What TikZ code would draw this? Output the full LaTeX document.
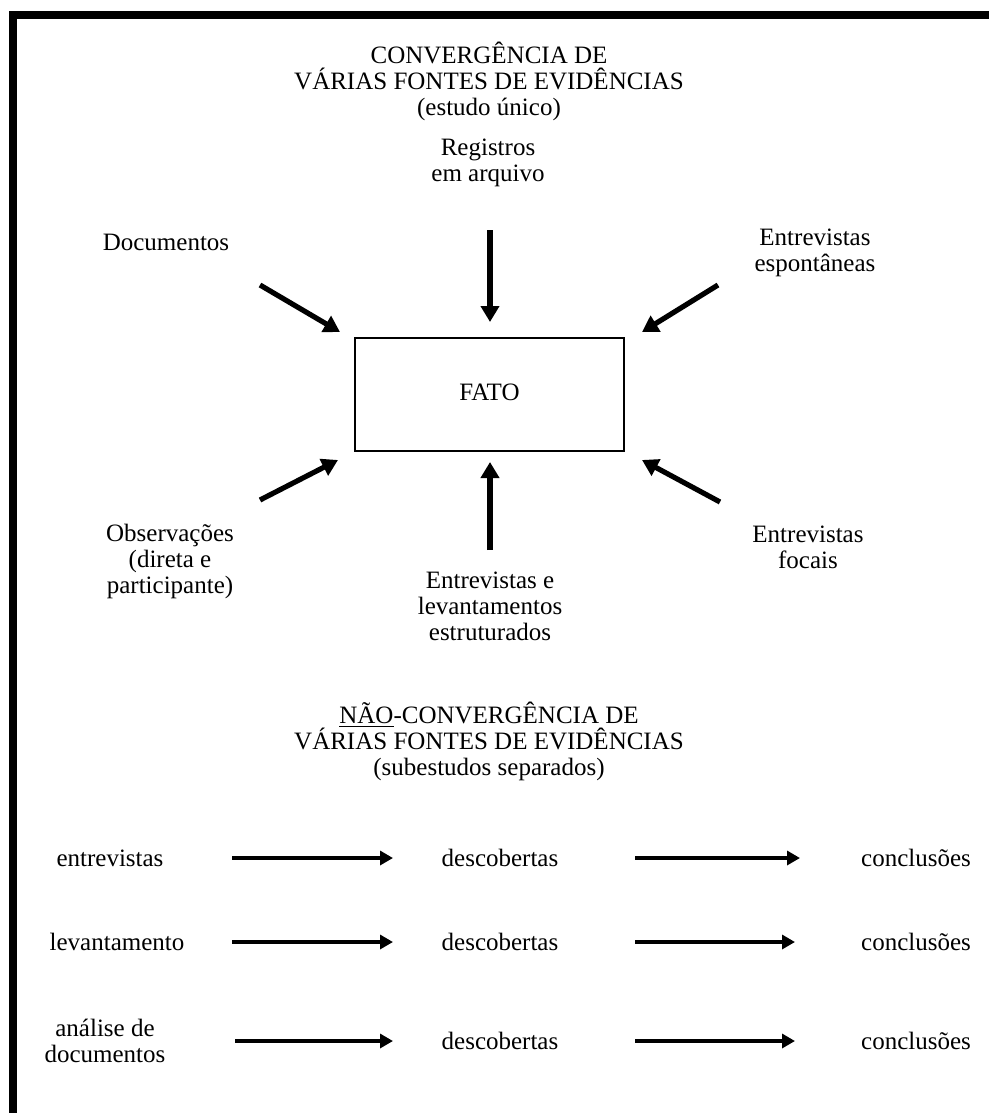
\documentclass[tikz,border=0pt]{standalone}
\usepackage{fontspec}
\setmainfont{Liberation Serif}
\usetikzlibrary{arrows.meta}
\begin{document}
\begin{tikzpicture}[x=0.5pt,y=-0.5pt,
  lbl/.style={font=\fontsize{12.5}{13}\selectfont, align=center, inner sep=0pt},
  bigarrow/.style={line width=2.6pt, -{Triangle[length=8pt,width=9pt]}},
  rowarrow/.style={line width=2.4pt, -{Triangle[length=6.5pt,width=7pt]}},
  factbox/.style={draw, line width=1pt, minimum width=134.5pt, minimum height=56.5pt, inner sep=0pt}]
\useasboundingbox (0,0) rectangle (989,1113);
% frame
\fill (9,11) rectangle (989,19);
\fill (9,11) rectangle (17,1113);
% titles
\node[lbl] (title1) at (489,81) {CONVERGÊNCIA DE\\VÁRIAS FONTES DE EVIDÊNCIAS\\(estudo único)};
\node[lbl] (title2) at (489,741) {\underline{NÃO}-CONVERGÊNCIA DE\\VÁRIAS FONTES DE EVIDÊNCIAS\\(subestudos separados)};
% central fact
\node[factbox] (fato) at (489.5,394.5) {};
\node[lbl] (fatotxt) at (489.5,392) {FATO};
% sources
\node[lbl] (reg) at (488,163) {Registros\\em arquivo};
\node[lbl] (doc) at (166,242) {Documentos};
\node[lbl] (esp) at (815,253) {Entrevistas\\espontâneas};
\node[lbl] (obs) at (170,561) {Observações\\(direta e\\participante)};
\node[lbl] (foc) at (808,547) {Entrevistas\\focais};
\node[lbl] (estr) at (490,606) {Entrevistas e\\levantamentos\\estruturados};
% arrow ends
\coordinate (regS) at (490,230); \coordinate (regE) at (490,322);
\coordinate (docS) at (260,285); \coordinate (docE) at (340,332);
\coordinate (espS) at (718,285); \coordinate (espE) at (642,332);
\coordinate (obsS) at (260,500); \coordinate (obsE) at (338,460);
\coordinate (estrS) at (490,550); \coordinate (estrE) at (490,462);
\coordinate (focS) at (720,502); \coordinate (focE) at (642,460);
\draw[bigarrow] (regS) -- (regE);
\draw[bigarrow] (docS) -- (docE);
\draw[bigarrow] (espS) -- (espE);
\draw[bigarrow] (obsS) -- (obsE);
\draw[bigarrow] (estrS) -- (estrE);
\draw[bigarrow] (focS) -- (focE);
% rows
\node[lbl] (src1) at (110,858) {entrevistas};
\node[lbl] (src2) at (117,942) {levantamento};
\node[lbl] (src3) at (105,1041) {análise de\\documentos};
\node[lbl] (des1) at (500,858) {descobertas};
\node[lbl] (des2) at (500,942) {descobertas};
\node[lbl] (des3) at (500,1041) {descobertas};
\node[lbl] (con1) at (916,858) {conclusões};
\node[lbl] (con2) at (916,942) {conclusões};
\node[lbl] (con3) at (916,1041) {conclusões};
\coordinate (a1S) at (232,858); \coordinate (a1E) at (393,858);
\coordinate (b1S) at (635,858); \coordinate (b1E) at (800,858);
\coordinate (a2S) at (232,942); \coordinate (a2E) at (393,942);
\coordinate (b2S) at (635,942); \coordinate (b2E) at (795,942);
\coordinate (a3S) at (235,1041); \coordinate (a3E) at (393,1041);
\coordinate (b3S) at (635,1041); \coordinate (b3E) at (795,1041);
\draw[rowarrow] (a1S) -- (a1E);
\draw[rowarrow] (b1S) -- (b1E);
\draw[rowarrow] (a2S) -- (a2E);
\draw[rowarrow] (b2S) -- (b2E);
\draw[rowarrow] (a3S) -- (a3E);
\draw[rowarrow] (b3S) -- (b3E);
\end{tikzpicture}
\end{document}
